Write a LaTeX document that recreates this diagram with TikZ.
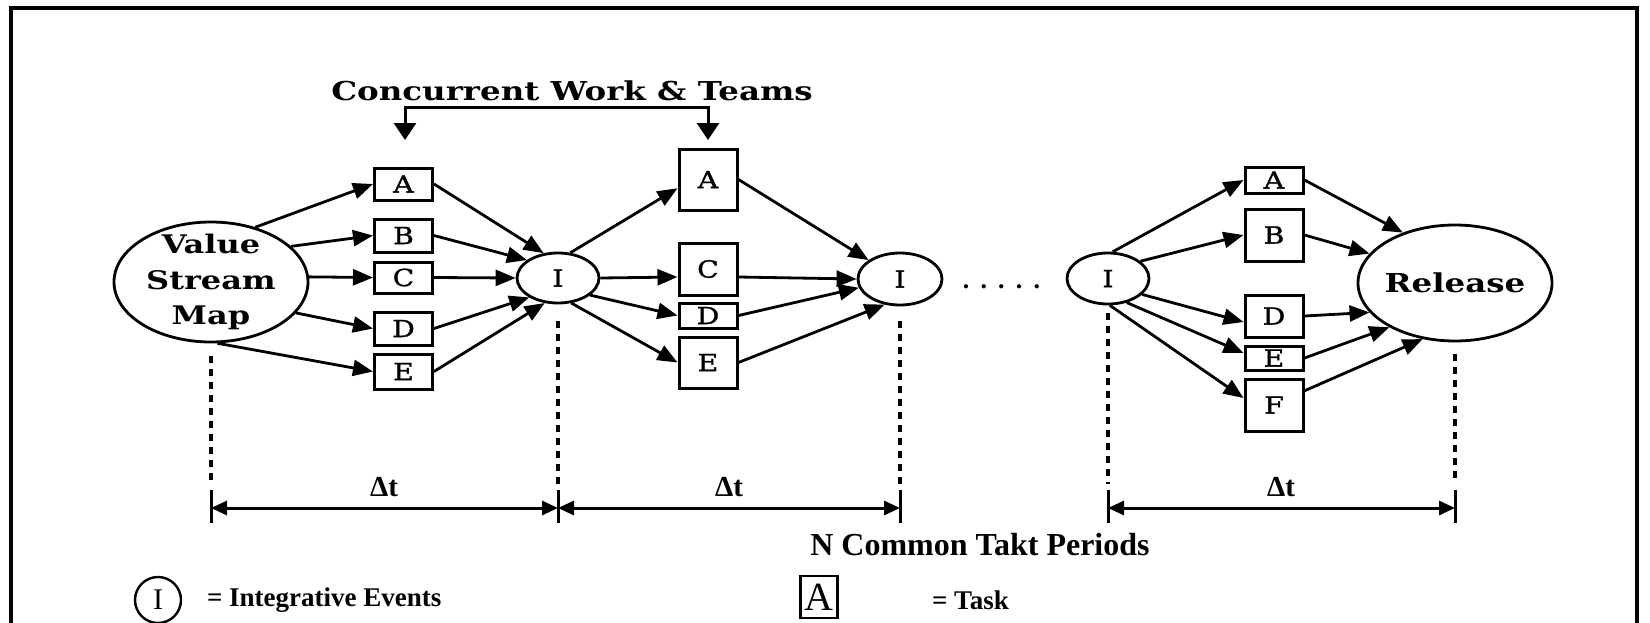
\documentclass[tikz,border=0pt]{standalone}
\usepackage{fontspec}
\setmainfont{Liberation Serif}
\newfontfamily\wideserif[FakeStretch=1.25]{DejaVu Serif}
\newfontfamily\letterserif[FakeStretch=1.2,FakeBold=1.2]{DejaVu Serif}
\usetikzlibrary{shapes.geometric,arrows.meta}

\begin{document}
\begin{tikzpicture}[x=0.5pt,y=-0.5pt,
  flow/.style={line width=1.4pt,-{Triangle[length=10pt,width=8pt]}},
  task/.style={draw,rectangle,line width=1.5pt,inner sep=0pt,minimum width=29pt,
    font=\letterserif\fontsize{11.8}{12}\selectfont},
  event/.style={draw,ellipse,line width=1.4pt,inner sep=0pt,minimum width=41pt,minimum height=25pt,
    font=\letterserif\fontsize{11.8}{12}\selectfont},
  guide/.style={line width=2pt,dash pattern=on 3.5pt off 3pt,shorten <=6.5pt},
  dimline/.style={line width=1.5pt,{Triangle[length=8pt,width=7pt]}-{Triangle[length=8pt,width=7pt]}},
  tickmark/.style={line width=1.5pt},
  plain/.style={font=\bfseries\fontsize{13}{15}\selectfont},
  wide/.style={font=\wideserif\bfseries\fontsize{13}{15}\selectfont}]

\useasboundingbox (0,0) rectangle (1650,622);

% outer frame (open at the bottom)
\draw[line width=2pt] (10.5,630) -- (10.5,8) -- (1637,8) -- (1637,630);

% heading and bracket
\node[wide] (title) at (572,91) {Concurrent Work \& Teams};
\coordinate (brL) at (405,140);
\coordinate (brLc) at (405,107);
\coordinate (brRc) at (708,107);
\coordinate (brR) at (708,140);
\draw[line width=1.5pt,{Triangle[length=8.5pt,width=11pt]}-{Triangle[length=8.5pt,width=11pt]}]
  (brL) -- (brLc) -- (brRc) -- (brR);

% start and end events
\node[event,minimum width=97pt,minimum height=60pt,
  label={[font=\wideserif\bfseries\fontsize{12.8}{17.75}\selectfont,align=center]center:Value\\Stream\\Map}]
  (vsm) at (211,282) {};
\node[event,minimum width=97pt,minimum height=58pt,
  label={[wide]center:Release}] (rel) at (1455,283) {};

% integrative events
\node[event] (i1) at (558,278) {I};
\node[event,minimum width=42pt,minimum height=26pt] (i2) at (900,279) {I};
\node[event,minimum height=25.5pt] (i3) at (1108,278.5) {I};

% first set of tasks
\node[task,minimum height=16pt] (a1) at (403.5,184) {A};
\node[task,minimum height=16.5pt] (b1) at (403.5,235.5) {B};
\node[task,minimum height=15.5pt] (c1) at (403.5,277.5) {C};
\node[task,minimum height=16.5pt] (d1) at (403.5,328.5) {D};
\node[task,minimum height=17.5pt] (e1) at (403.5,371.5) {E};

% second set of tasks
\node[task,minimum height=30.5pt] (a2) at (708,179.5) {A};
\node[task,minimum height=26pt] (c2) at (708,269) {C};
\node[task,minimum height=12.5pt] (d2) at (708,315.5) {D};
\node[task,minimum height=25.5pt] (e2) at (708,362.5) {E};

% last set of tasks
\node[task,minimum height=13pt] (a3) at (1274,180) {A};
\node[task,minimum height=26pt] (b3) at (1274,235) {B};
\node[task,minimum height=21pt] (d3) at (1274,316) {D};
\node[task,minimum height=12pt] (e3) at (1274,358) {E};
\node[task,minimum height=26pt] (f3) at (1274,405) {F};

% flows into the first tasks
\draw[flow] (vsm.51) -- (a1.west);
\draw[flow] (vsm.24) -- (b1.west);
\draw[flow] (vsm.3) -- (c1.west);
\draw[flow] (vsm.-20) -- (d1.west);
\draw[flow] (vsm.-84) -- (e1.west);
\draw[flow] (a1.east) -- (i1.120);
\draw[flow] (b1.east) -- (i1.150);
\draw[flow] (c1.east) -- (i1.180);
\draw[flow] (d1.east) -- (i1.214);
\draw[flow] (e1.east) -- (i1.242);

% flows through the second tasks
\draw[flow] (i1.64) -- (a2.196);
\draw[flow] (i1.0) -- ([yshift=-4pt]c2.west);
\draw[flow] (i1.-28) -- (d2.west);
\draw[flow] (i1.-62) -- (e2.west);
\draw[flow] (a2.east) -- (i2.149);
\draw[flow] ([yshift=-4pt]c2.east) -- (i2.180);
\draw[flow] (d2.east) -- (i2.192);
\draw[flow] (e2.east) -- (i2.239);

% flows through the last tasks
\draw[flow] (i3.80) -- (a3.west);
\draw[flow] (i3.28) -- (b3.west);
\draw[flow] (i3.-25) -- ([yshift=-3pt]d3.west);
\draw[flow] (i3.-52) -- ([yshift=2.5pt]e3.west);
\draw[flow] (i3.-86) -- ([yshift=3.5pt]f3.west);
\draw[flow] (a3.east) -- (rel.136);
\draw[flow] (b3.east) -- (rel.161);
\draw[flow] (d3.east) -- (rel.199);
\draw[flow] (e3.east) -- (rel.214);
\draw[flow] (f3.25) -- (rel.240);

% omitted periods
\node[plain] (gap) at (1001.5,287) {.\hspace{5.6pt}.\hspace{5.6pt}.\hspace{5.6pt}.\hspace{5.6pt}.};

% takt time scale
\coordinate (dimy) at (0,508);
\coordinate (t1) at (vsm.south |- dimy);
\coordinate (t2) at (i1.south |- dimy);
\coordinate (t3) at (i2.south |- dimy);
\coordinate (t4) at (i3.south |- dimy);
\coordinate (t5) at (rel.south |- dimy);
\draw[guide] (vsm.south) -- ([yshift=12pt]t1);
\draw[guide,shorten <=8.5pt] (i1.south) -- ([yshift=12pt]t2);
\draw[guide,shorten <=7.5pt] (i2.south) -- ([yshift=12pt]t3);
\draw[guide,shorten <=4pt] (i3.south) -- ([yshift=12pt]t4);
\draw[guide,shorten <=6pt] (rel.south) -- ([yshift=12pt]t5);
\foreach \t in {t1,t2,t3,t4,t5}
  \draw[tickmark] ([yshift=9pt]\t) -- ([yshift=-7.5pt]\t);
\draw[dimline] (t1) -- (t2);
\draw[dimline] (t2) -- (t3);
\draw[dimline] (t4) -- (t5);
\node[plain,font=\bfseries\fontsize{14.5}{16}\selectfont] (dt1) at (384,487) {Δt};
\node[plain,font=\bfseries\fontsize{14.5}{16}\selectfont] (dt2) at (729,487) {Δt};
\node[plain,font=\bfseries\fontsize{14.5}{16}\selectfont] (dt3) at (1281,487) {Δt};
\node[plain,font=\bfseries\fontsize{16}{18}\selectfont] (takt) at (980,545) {N Common Takt Periods};

% key
\node[draw,circle,line width=1.2pt,minimum size=23pt,inner sep=0pt,font=\fontsize{15}{16}\selectfont] (keyI) at (158,600) {I};
\node[plain,anchor=west,font=\bfseries\fontsize{13.5}{15}\selectfont] (keyItxt) at (200,600) {= Integrative Events};
\node[draw,rectangle,line width=1.2pt,minimum width=18.5pt,minimum height=21pt,inner sep=0pt,font=\fontsize{20}{20}\selectfont] (keyA) at (819,597) {A};
\node[plain,anchor=west,font=\bfseries\fontsize{13.5}{15}\selectfont] (keyAtxt) at (925,600) {= Task};
\end{tikzpicture}
\end{document}
